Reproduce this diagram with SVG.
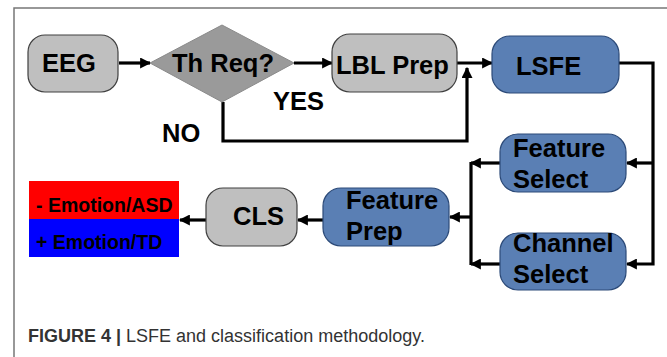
<svg xmlns="http://www.w3.org/2000/svg" width="667" height="357" viewBox="0 0 667 357">
  <style>
    .lbl { font-family: "Liberation Sans", Arial, sans-serif; font-weight: bold; font-size: 25.5px; fill: #000; }
    .leg { font-family: "Liberation Sans", Arial, sans-serif; font-weight: bold; font-size: 19.5px; fill: #000; }
    .cap { font-family: "Liberation Sans", Arial, sans-serif; font-size: 18px; fill: #333; }
    .gray { fill: #bfbfbf; stroke: #404040; stroke-width: 1.2; }
    .blue { fill: #5a7fb4; stroke: #2c4a78; stroke-width: 1.2; }
    .wire { fill: none; stroke: #000; stroke-width: 3.2; }
  </style>
  <defs>
    <marker id="arrow" viewBox="0 0 10 10" refX="9" refY="5" markerWidth="11" markerHeight="11" markerUnits="userSpaceOnUse" orient="auto">
      <path d="M0,0 L10,5 L0,10 z" fill="#000"/>
    </marker>
  </defs>
  <rect width="667" height="357" fill="#fff"/>
  <!-- frame -->
  <path d="M14,357 V8 H667" fill="none" stroke="#777" stroke-width="1.5"/>

  <g id="connectors">
    <line class="wire" x1="119" y1="63" x2="150" y2="63" marker-end="url(#arrow)"/>
    <line class="wire" x1="294" y1="63" x2="332" y2="63" marker-end="url(#arrow)"/>
    <path class="wire" d="M223,102 V141 H467 V68" marker-end="url(#arrow)"/>
    <line class="wire" x1="457" y1="63" x2="492" y2="63" marker-end="url(#arrow)"/>
    <path class="wire" d="M619,63 H653 V264 H627" marker-end="url(#arrow)"/>
    <line class="wire" x1="653" y1="163" x2="627" y2="163" marker-end="url(#arrow)"/>
    <line class="wire" x1="500" y1="163" x2="471" y2="163" marker-end="url(#arrow)"/>
    <line class="wire" x1="500" y1="264" x2="471" y2="264" marker-end="url(#arrow)"/>
    <path class="wire" d="M471,162 V265"/>
    <line class="wire" x1="471" y1="217" x2="450" y2="217" marker-end="url(#arrow)"/>
    <line class="wire" x1="323" y1="220" x2="298" y2="220" marker-end="url(#arrow)"/>
    <line class="wire" x1="206" y1="220" x2="180" y2="220" marker-end="url(#arrow)"/>
    <text class="lbl" x="273" y="110">YES</text>
    <text class="lbl" x="162" y="142">NO</text>
  </g>

  <g id="eeg">
    <rect class="gray" x="28" y="35" width="90" height="57" rx="17"/>
    <text class="lbl" x="42" y="72">EEG</text>
  </g>
  <g id="th-req">
    <polygon points="150,63 222,25 294,63 222,102" fill="#9a9a9a" stroke="#8a8a8a" stroke-width="1"/>
    <text class="lbl" x="172" y="72">Th Req?</text>
  </g>
  <g id="lbl-prep">
    <rect class="gray" x="332" y="34" width="125" height="58" rx="18"/>
    <text class="lbl" x="336" y="74">LBL Prep</text>
  </g>
  <g id="lsfe">
    <rect class="blue" x="492" y="36" width="127" height="57" rx="18"/>
    <text class="lbl" x="516" y="75">LSFE</text>
  </g>
  <g id="feature-select">
    <rect class="blue" x="500" y="134" width="126" height="58" rx="18"/>
    <text class="lbl" x="513" y="157">Feature</text>
    <text class="lbl" x="513" y="188">Select</text>
  </g>
  <g id="channel-select">
    <rect class="blue" x="500" y="233" width="126" height="57" rx="18"/>
    <text class="lbl" x="513" y="252">Channel</text>
    <text class="lbl" x="513" y="283">Select</text>
  </g>
  <g id="feature-prep">
    <rect class="blue" x="323" y="188" width="126" height="58" rx="18"/>
    <text class="lbl" x="346" y="209">Feature</text>
    <text class="lbl" x="346" y="240">Prep</text>
  </g>
  <g id="cls">
    <rect class="gray" x="206" y="188" width="91" height="58" rx="17"/>
    <text class="lbl" x="233" y="225">CLS</text>
  </g>
  <g id="legend">
    <rect x="29" y="181" width="150" height="38" fill="#ff0000"/>
    <rect x="29" y="219" width="150" height="38" fill="#0000ff"/>
    <text class="leg" x="36" y="212">- Emotion/ASD</text>
    <text class="leg" x="36" y="249">+ Emotion/TD</text>
  </g>

  <text class="cap" x="28" y="342"><tspan font-weight="bold">FIGURE 4 | </tspan>LSFE and classification methodology.</text>
</svg>
